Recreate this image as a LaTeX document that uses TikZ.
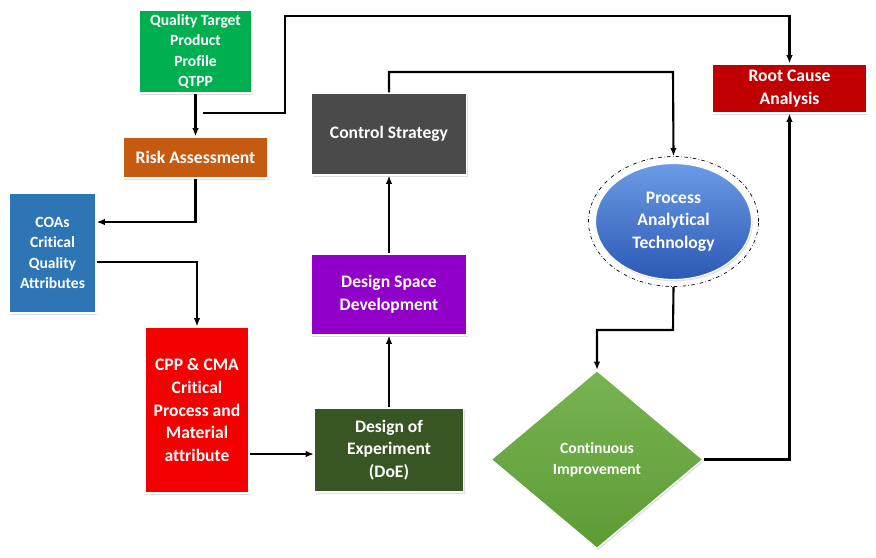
\documentclass[tikz,border=0pt]{standalone}
\usepackage{fontspec}
\setmainfont{Carlito}[Ligatures=NoCommon]
\usetikzlibrary{shapes.geometric,arrows.meta,shadows}
\definecolor{qtppgreen}{HTML}{00B050}
\definecolor{riskorange}{HTML}{C55A11}
\definecolor{coasblue}{HTML}{2E75B6}
\definecolor{ctrlgray}{HTML}{4A4A4A}
\definecolor{dsdpurple}{HTML}{9000C8}
\definecolor{cppred}{HTML}{F50000}
\definecolor{doegreen}{HTML}{375623}
\definecolor{rootred}{HTML}{C00000}
\definecolor{pattop}{HTML}{6B9BE6}
\definecolor{patbot}{HTML}{2C59B4}
\definecolor{conttop}{HTML}{78B452}
\definecolor{contbot}{HTML}{5C9C34}

\begin{document}
\begin{tikzpicture}[x=0.03cm,y=-0.03cm,
    box/.style={draw=white,line width=1pt,text=white,align=center,inner sep=1pt,
      font=\bfseries\fontsize{15}{19.3}\selectfont,
      drop shadow={opacity=0.25,shadow xshift=1pt,shadow yshift=-1.5pt}},
    small/.style={font=\bfseries\fontsize{13.3}{17.5}\selectfont},
    arr/.style={-{Latex[length=2.5mm,width=2mm]},line width=1.8pt}]
      \useasboundingbox (0,0) rectangle (876,557);
      \node[box,small,fill=qtppgreen,minimum width=3.39cm,minimum height=2.49cm] (qtpp) at (195.5,51.5) {Quality Target\\Product\\Profile\\QTPP};
      \node[box,fill=riskorange,minimum width=4.35cm,minimum height=1.23cm] (risk) at (195.5,157.5) {Risk Assessment};
      \node[box,small,fill=coasblue,minimum width=2.61cm,minimum height=3.6cm] (coas) at (52.5,253) {COAs\\Critical\\Quality\\Attributes};
      \node[box,fill=cppred,minimum width=3.12cm,minimum height=4.98cm] (cpp) at (197,410) {CPP \& CMA\\Critical\\Process and\\Material\\attribute};
      \node[box,fill=doegreen,minimum width=4.47cm,minimum height=2.52cm] (doe) at (389,450) {Design of\\Experiment\\(DoE)};
      \node[box,fill=dsdpurple,minimum width=4.68cm,minimum height=2.43cm] (dsd) at (389,294.5) {Design Space\\Development};
      \node[box,fill=ctrlgray,minimum width=4.65cm,minimum height=2.46cm] (ctrl) at (389,134) {Control Strategy};
      \node[box,fill=rootred,minimum width=4.65cm,minimum height=1.47cm] (root) at (789.5,88.5) {Root Cause\\Analysis};
      \node[draw,dash dot,line width=0.6pt,ellipse,minimum width=5.1cm,minimum height=3.9cm] (pato) at (673.5,221.5) {};
      \node[box,ellipse,top color=pattop,bottom color=patbot,minimum width=4.68cm,minimum height=3.48cm] (pat) at (673.5,221.5) {Process\\Analytical\\Technology};
      \node[box,small,diamond,top color=conttop,bottom color=contbot,minimum width=6.36cm,minimum height=5.34cm,inner sep=0pt] (cont) at (597,459.5) {Continuous\\Improvement};
      \coordinate (fb) at (203,113);
      \coordinate (fbtop) at (285,16);
      \coordinate (patup) at (673,72);
      \coordinate (patdn) at (673,330);
      \draw[arr] (qtpp.south) -- (risk.north);
      \draw[arr] (fb) -| (fbtop) -| (root.north);
      \draw[arr] (risk.south) |- ([yshift=0.93cm]coas.east);
      \draw[arr] ([yshift=-0.27cm]coas.east) -| (cpp.north);
      \draw[arr] ([yshift=-1.32cm]cpp.east) coordinate (c1) -- (c1 -| doe.west);
      \draw[arr] (doe.north) -- (dsd.south);
      \draw[arr] (dsd.north) -- (ctrl.south);
      \draw[arr] (ctrl.north) |- (patup) -- (pato.north);
      \draw[arr] (pato.south) -- (patdn) -| (cont.north);
      \draw[arr] (cont.east) -| (root.south);
    \end{tikzpicture}
\end{document}
